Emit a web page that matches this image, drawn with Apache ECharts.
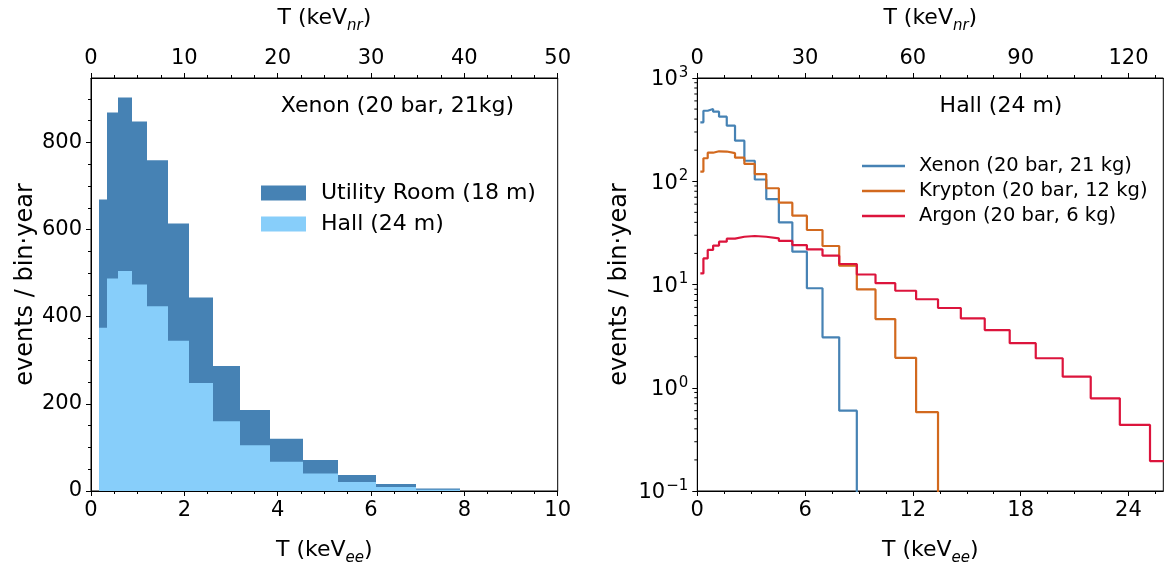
<!DOCTYPE html>
<html><head><meta charset="utf-8">
<script src="https://cdn.jsdelivr.net/npm/echarts@6/dist/echarts.min.js"></script>
<style>html,body{margin:0;padding:0;background:#fff}#c{width:1164px;height:573px}</style>
</head><body><div id="c"></div>
<script>
// ---- data ----
// histogram bin edges in keV_ee (bins uniform in sqrt(T))
const binEdges = [0.17,0.34,0.58,0.88,1.21,1.64,2.10,2.62,3.20,3.84,4.54,5.29,6.10,6.97,7.90,8.88,9.92,11.02,12.18,13.40,14.67,16.00,17.39,18.84,20.34,21.90,23.52,25.20,26.90];
// left panel: Xenon events / bin·year
const utilityRoom = [669,869,903,848,759,614,444,287,186,120,71,37,16,5.5];
const hall        = [375,488,505,474,424,345,248,160,105,67,40,20.8,9.2,3.1];
// right panel: Hall (24 m)
const xenon   = [372,482,501,472,422,345,247,158,104,67,40,20.8,9.2,3.08,0.60,0];
const krypton = [124,167,189,195,194,187,169,147,117,85.5,62,46.4,33.7,23.6,15.2,8.95,4.63,1.95,0.58,0];
const argon   = [12.8,17.9,21.6,23.8,26.0,27.8,29.0,29.5,29.0,28.0,26.4,24.1,21.9,19.0,15.8,12.5,10.3,8.7,7.2,5.92,4.69,3.62,2.70,1.93,1.28,0.79,0.436,0.195];
// ticks
const leftXTicks = [0,2,4,6,8,10];
const leftTopTicks = [0,10,20,30,40,50];
const leftYTicks = [0,200,400,600,800];
const rightXTicks = [0,6,12,18,24];
const rightTopTicks = [0,30,60,90,120];
const logMinorTicks = [0.2,0.3,0.4,0.5,0.6,0.7,0.8,0.9,2,3,4,5,6,7,8,9,20,30,40,50,60,70,80,90,200,300,400,500,600,700,800,900];

const FONT = 'DejaVu Sans';
const chart = echarts.init(document.getElementById('c'));

function stepData(vals){
  const d = [];
  for (let i = 0; i < vals.length; i++) d.push([binEdges[i], vals[i] > 0 ? vals[i] : 1e-4]);
  const last = vals[vals.length-1];
  d.push([binEdges[vals.length], last > 0 ? last : 1e-4]);
  return d;
}
function histData(vals){ return vals.map((v,i)=>[binEdges[i], binEdges[i+1], v]); }

function minorList(min, max, step){ const a=[]; for(let v=min; v<=max+1e-9; v+=step) a.push(+v.toFixed(6)); return a; }

const nameRich = {
  a:{fontSize:22, fontFamily:FONT, color:'#000', verticalAlign:'bottom', padding:[0,0,5,0]},
  s:{fontSize:15, fontFamily:FONT, fontStyle:'italic', color:'#000', verticalAlign:'bottom'}
};

function mainAxis(o){
  return Object.assign({
    type:'value', min:o.min, max:o.max, interval:o.interval,
    axisLine:{show:true, onZero:false, lineStyle:{color:'#000', width:1}},
    axisTick:{show:true, inside:false, length:5, lineStyle:{color:'#000', width:1}, customValues:o.ticks},
    axisLabel:{show:true, fontSize:21, fontFamily:FONT, color:'#000', margin:9, customValues:o.ticks},
    minorTick:{show:false}, splitLine:{show:false}
  }, o.extra || {});
}
function minorAxis(o){
  return {
    type:'value', min:o.min, max:o.max, position:o.position, gridIndex:o.gridIndex,
    axisLine:{show:false, onZero:false},
    axisTick:{show:true, inside:false, length:3, lineStyle:{color:'#000', width:1}, customValues:minorList(o.min, o.max, o.step)},
    axisLabel:{show:false}, splitLine:{show:false}, interval:o.step
  };
}

const xAxis = [
  mainAxis({min:0, max:10, interval:2, ticks:leftXTicks, extra:{gridIndex:0, position:'bottom',
    name:'{a|T (keV}{s|ee}{a|)}', nameLocation:'middle', nameGap:48, nameTextStyle:{rich:nameRich}}}),
  minorAxis({min:0, max:10, step:0.5, position:'bottom', gridIndex:0}),
  mainAxis({min:0, max:50, interval:10, ticks:leftTopTicks, extra:{gridIndex:0, position:'top',
    name:'{a|T (keV}{s|nr}{a|)}', nameLocation:'middle', nameGap:44, nameTextStyle:{rich:nameRich}}}),
  minorAxis({min:0, max:50, step:2.5, position:'top', gridIndex:0}),
  mainAxis({min:0, max:25.94, interval:6, ticks:rightXTicks, extra:{gridIndex:1, position:'bottom',
    name:'{a|T (keV}{s|ee}{a|)}', nameLocation:'middle', nameGap:48, nameTextStyle:{rich:nameRich}}}),
  minorAxis({min:0, max:25.94, step:1.5, position:'bottom', gridIndex:1}),
  mainAxis({min:0, max:129.7, interval:30, ticks:rightTopTicks, extra:{gridIndex:1, position:'top',
    name:'{a|T (keV}{s|nr}{a|)}', nameLocation:'middle', nameGap:44, nameTextStyle:{rich:nameRich}}}),
  minorAxis({min:0, max:129.7, step:7.5, position:'top', gridIndex:1})
];

const yAxis = [
  mainAxis({min:0, max:948, interval:200, ticks:leftYTicks, extra:{gridIndex:0, position:'left',
    name:'events / bin·year', nameLocation:'middle', nameGap:52, nameTextStyle:{fontSize:24, fontFamily:FONT, color:'#000'}}}),
  minorAxis({min:0, max:948, step:50, position:'left', gridIndex:0}),
  {
    type:'log', logBase:10, min:0.1, max:1000, gridIndex:1, position:'left',
    axisLine:{show:true, onZero:false, lineStyle:{color:'#000', width:1}},
    axisTick:{show:true, inside:false, length:5, lineStyle:{color:'#000', width:1}},
    minorTick:{show:false}, splitLine:{show:false},
    axisLabel:{fontSize:21, fontFamily:FONT, color:'#000', margin:9,
      formatter:(v)=>{ const e=Math.round(Math.log10(v)); return '{b|10}{p|'+(e<0?'\u2212'+(-e):e)+'}'; },
      rich:{ b:{fontSize:21, fontFamily:FONT, color:'#000', verticalAlign:'bottom'},
             p:{fontSize:15, fontFamily:FONT, color:'#000', verticalAlign:'bottom', padding:[0,0,10,1]} }
    },
    name:'events / bin·year', nameLocation:'middle', nameGap:66, nameTextStyle:{fontSize:24, fontFamily:FONT, color:'#000'}
  }
];

function histSeries(name, vals, color){
  return {
    type:'custom', name, xAxisIndex:0, yAxisIndex:0, clip:true,
    itemStyle:{color},
    encode:{x:[0,1], y:2},
    data: histData(vals),
    renderItem:(params, api)=>{
      const p0 = api.coord([api.value(0), api.value(2)]);
      const p1 = api.coord([api.value(1), 0]);
      const x0 = Math.round(p0[0]), x1 = Math.round(p1[0]);
      return {type:'rect', shape:{x:x0, y:p0[1], width:x1-x0, height:p1[1]-p0[1]}, style:{fill:color}};
    }
  };
}
function stepSeries(name, vals, color){
  return {
    type:'line', name, xAxisIndex:4, yAxisIndex:2, step:'end', symbol:'none', showSymbol:false, clip:true,
    lineStyle:{width:2.2, color}, itemStyle:{color}, data: stepData(vals)
  };
}

const option = {
  animation:false,
  backgroundColor:'#fff',
  textStyle:{fontFamily:FONT},
  grid:[
    {left:91, top:78, width:466.7, height:413, show:true, borderColor:'#000', borderWidth:1, backgroundColor:'transparent'},
    {left:697.3, top:78, width:466, height:413, show:true, borderColor:'#000', borderWidth:1, backgroundColor:'transparent'}
  ],
  xAxis, yAxis,
  legend:[
    {orient:'vertical', left:256, top:177, itemWidth:45, itemHeight:15, itemGap:9, icon:'rect',
     textStyle:{fontSize:22, fontFamily:FONT, color:'#000', padding:[0,0,0,10]},
     data:['Utility Room (18 m)','Hall (24 m)']},
    {orient:'vertical', left:857, top:151, itemWidth:43, itemHeight:2.5, itemGap:5, icon:'rect',
     textStyle:{fontSize:19.5, fontFamily:FONT, color:'#000', padding:[0,0,0,9]},
     data:['Xenon (20 bar, 21 kg)','Krypton (20 bar, 12 kg)','Argon (20 bar, 6 kg)']}
  ],
  graphic:[
    {type:'text', x:397.5, y:106, style:{text:'Xenon (20 bar, 21kg)', font:'22px "DejaVu Sans"', fill:'#000', align:'center', verticalAlign:'middle'}},
    {type:'text', x:1001, y:106, style:{text:'Hall (24 m)', font:'22px "DejaVu Sans"', fill:'#000', align:'center', verticalAlign:'middle'}}
  ],
  series:[
    histSeries('Utility Room (18 m)', utilityRoom, '#4682B4'),
    histSeries('Hall (24 m)', hall, '#87CEFA'),
    stepSeries('Xenon (20 bar, 21 kg)', xenon, '#4682B4'),
    stepSeries('Krypton (20 bar, 12 kg)', krypton, '#D2691E'),
    stepSeries('Argon (20 bar, 6 kg)', argon, '#DC143C'),
    {
      type:'custom', name:'logminor', xAxisIndex:4, yAxisIndex:2, silent:true, clip:false,
      encode:{x:0, y:1},
      data: logMinorTicks.map(v=>[0, v]),
      renderItem:(params, api)=>{
        const p = api.coord([0, api.value(1)]);
        return {type:'line', shape:{x1:p[0]-3, y1:p[1], x2:p[0], y2:p[1]}, style:{stroke:'#000', lineWidth:1}};
      }
    }
  ]
};
chart.setOption(option);
</script>
</body></html>
